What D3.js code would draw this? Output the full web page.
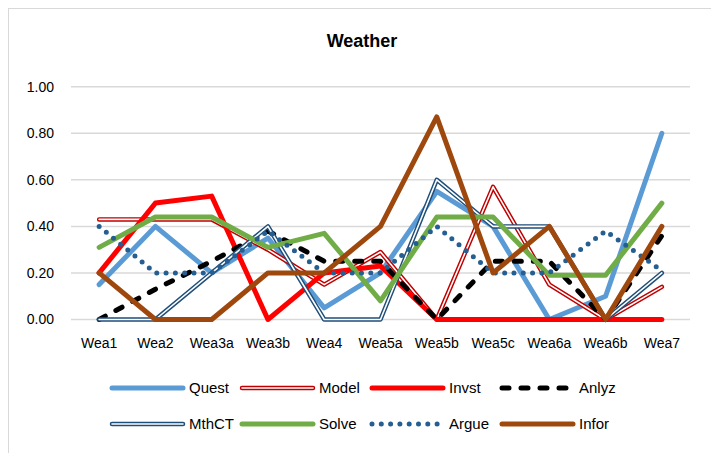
<!DOCTYPE html>
<html>
    <head>
        <meta charset="utf-8">
        <title>Weather</title>
        <style>
            html, body {
                margin: 0px;
                padding: 0px;
                background-color: #ffffff;
                font-family: "Liberation Sans", Arial, sans-serif;
            }
            svg { display: block; }
            .grid line { stroke: #d9d9d9; stroke-width: 1.5; }
            .tickLabel { fill: #000; font-size: 14px; }
            .line { fill: none; stroke-linejoin: round; }
        </style>
        <script src="https://cdn.jsdelivr.net/npm/d3@7"></script>
    </head>
    <body>
        <div id="main"></div>
        <script>
            // categories and tick labels
            var categories = ["Wea1", "Wea2", "Wea3a", "Wea3b", "Wea4", "Wea5a", "Wea5b", "Wea5c", "Wea6a", "Wea6b", "Wea7"];
            var yTicks = [0, 0.2, 0.4, 0.6, 0.8, 1.0];

            // series values
            var quest = [0.15, 0.40, 0.20, 0.35, 0.05, 0.20, 0.55, 0.40, 0.00, 0.10, 0.80];
            var model = [0.43, 0.43, 0.43, 0.30, 0.15, 0.29, 0.00, 0.57, 0.15, 0.00, 0.14];
            var invst = [0.20, 0.50, 0.53, 0.00, 0.20, 0.23, 0.00, 0.00, 0.00, 0.00, 0.00];
            var anlyz = [0.00, 0.13, 0.25, 0.38, 0.25, 0.25, 0.00, 0.25, 0.25, 0.00, 0.36];
            var mthct = [0.00, 0.00, 0.20, 0.40, 0.00, 0.00, 0.60, 0.40, 0.40, 0.00, 0.20];
            var solve = [0.31, 0.44, 0.44, 0.31, 0.37, 0.08, 0.44, 0.44, 0.19, 0.19, 0.50];
            var argue = [0.40, 0.20, 0.20, 0.38, 0.20, 0.20, 0.40, 0.20, 0.20, 0.38, 0.21];
            var infor = [0.20, 0.00, 0.00, 0.20, 0.20, 0.40, 0.87, 0.20, 0.40, 0.00, 0.40];

            var seriesNames = ["Quest", "Model", "Invst", "Anlyz", "MthCT", "Solve", "Argue", "Infor"];

            var width = 711;
            var height = 453;

            var styles = {
                Quest: {color: "#5b9bd5", width: 5},
                Model: {color: "#c00000", width: 4.5, inner: 1.6},
                Invst: {color: "#ff0000", width: 5},
                Anlyz: {color: "#000000", width: 5, dash: "7 12"},
                MthCT: {color: "#1f4e79", width: 4.5, inner: 1.6},
                Solve: {color: "#70ad47", width: 5},
                Argue: {color: "#255e91", width: 5, dash: "0 9.3"},
                Infor: {color: "#9e480e", width: 5}
            };

            function drawPath(g, d, style) {
                var p = g.append("path")
                    .attr("class", "line")
                    .attr("d", d)
                    .attr("stroke", style.color)
                    .attr("stroke-width", style.width)
                    .attr("stroke-linecap", "round");
                if (style.dash) p.attr("stroke-dasharray", style.dash);
                if (style.inner) {
                    g.append("path")
                        .attr("class", "line")
                        .attr("d", d)
                        .attr("stroke", "#ffffff")
                        .attr("stroke-width", style.inner)
                        .attr("stroke-linecap", "round");
                }
            }

            function main() {
                var svg = d3.select("#main")
                    .append("svg")
                    .attr("width", width)
                    .attr("height", height);

                // chart border
                svg.append("rect")
                    .attr("x", 8.5).attr("y", 8.5)
                    .attr("width", 720).attr("height", 460)
                    .attr("fill", "none")
                    .attr("stroke", "#d9d9d9")
                    .attr("stroke-width", 1);

                svg.append("text")
                    .attr("x", 362)
                    .attr("y", 47)
                    .attr("text-anchor", "middle")
                    .attr("font-weight", "bold")
                    .attr("font-size", "18px")
                    .text("Weather");

                var x = d3.scalePoint()
                    .domain(categories)
                    .range([71, 690])
                    .padding(0.5);

                var y = d3.scaleLinear()
                    .domain([0, 1])
                    .range([319.5, 86.7]);

                var grid = svg.append("g").attr("class", "grid");
                grid.selectAll("line")
                    .data(yTicks)
                    .enter().append("line")
                    .attr("x1", 71).attr("x2", 690)
                    .attr("y1", function(d) { return y(d); })
                    .attr("y2", function(d) { return y(d); });

                svg.append("g").selectAll("text")
                    .data(yTicks)
                    .enter().append("text")
                    .attr("class", "tickLabel")
                    .attr("x", 54)
                    .attr("y", function(d) { return y(d); })
                    .attr("dy", "0.35em")
                    .attr("text-anchor", "end")
                    .text(function(d) { return d3.format(".2f")(d); });

                svg.append("g").selectAll("text")
                    .data(categories)
                    .enter().append("text")
                    .attr("class", "tickLabel")
                    .attr("x", function(d) { return x(d); })
                    .attr("y", 343)
                    .attr("dy", "0.35em")
                    .attr("text-anchor", "middle")
                    .attr("font-size", "14.5px")
                    .text(function(d) { return d; });

                var line = d3.line()
                    .x(function(d, i) { return x(categories[i]); })
                    .y(function(d) { return y(d); });

                var data = {Quest: quest, Model: model, Invst: invst, Anlyz: anlyz,
                            MthCT: mthct, Solve: solve, Argue: argue, Infor: infor};

                var plot = svg.append("g");
                seriesNames.forEach(function(name) {
                    drawPath(plot.append("g"), line(data[name]), styles[name]);
                });

                // legend, two rows of four
                var legend = svg.append("g");
                seriesNames.forEach(function(name, i) {
                    var lx = 112 + (i % 4) * 130;
                    var ly = i < 4 ? 388 : 424;
                    var g = legend.append("g");
                    drawPath(g, "M" + lx + "," + ly + "H" + (lx + 71), styles[name]);
                    g.append("text")
                        .attr("x", lx + 77)
                        .attr("y", ly)
                        .attr("dy", "0.35em")
                        .attr("font-size", "15px")
                        .text(name);
                });
            }

            main();
        </script>
    </body>
</html>
